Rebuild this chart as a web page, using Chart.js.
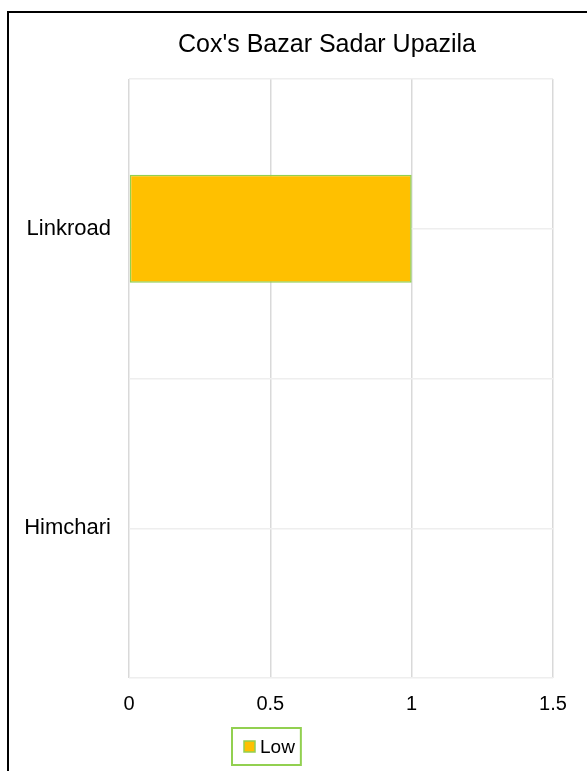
<!DOCTYPE html>
<html>
<head>
<meta charset="utf-8">
<title>Cox's Bazar Sadar Upazila</title>
<script src="https://cdn.jsdelivr.net/npm/chart.js@4.4.0/dist/chart.umd.min.js"></script>
<style>
    html, body {
        margin: 0;
        padding: 0;
        background: #ffffff;
        overflow: hidden;
    }
    #frame {
        position: absolute;
        left: 7px;
        top: 11px;
        width: 700px;
        height: 820px;
        border: 2px solid #000000;
        background: #ffffff;
    }
    #chart {
        position: absolute;
        left: 0;
        top: 0;
    }
</style>
</head>
<body>
<div id="frame">
    <canvas id="chart" width="636" height="758"></canvas>
</div>
<script>
// Chart data
const chartTitle = "Cox's Bazar Sadar Upazila";
const categories = ['Linkroad', 'Himchari'];
const seriesName = 'Low';
const lowValues = [1, 0];
const xTicks = [0, 0.5, 1, 1.5];
// category boundaries and centres, for the light horizontal lines
const rowLines = [-0.5, 0, 0.5, 1, 1.5];

const barColor = '#FFC000';
const edgeColor = '#92D050';
const fontFamily = "'Liberation Sans', Arial, sans-serif";

// Boxed legend drawn under the axis, like the Excel one
const boxedLegend = {
    id: 'boxedLegend',
    afterDraw(chart) {
        const ctx = chart.ctx;
        const ds = chart.data.datasets[0];
        ctx.save();
        ctx.font = '19px ' + fontFamily;
        const textW = ctx.measureText(ds.label).width;
        const left = 223, top = 715, h = 37;
        const sw = 11;
        const width = 12 + sw + 5 + textW + 6;
        ctx.strokeStyle = edgeColor;
        ctx.lineWidth = 2;
        ctx.strokeRect(left, top, width, h);
        const midY = top + h / 2;
        ctx.fillStyle = ds.backgroundColor;
        ctx.fillRect(left + 12, midY - sw / 2, sw, sw);
        ctx.lineWidth = 1.5;
        ctx.strokeRect(left + 12, midY - sw / 2, sw, sw);
        ctx.fillStyle = '#000000';
        ctx.textBaseline = 'middle';
        ctx.fillText(ds.label, left + 12 + sw + 5, midY + 1);
        ctx.restore();
    }
};

const ctx = document.getElementById('chart').getContext('2d');
const chart = new Chart(ctx, {
    type: 'bar',
    data: {
        labels: categories,
        datasets: [{
            label: seriesName,
            data: lowValues,
            backgroundColor: barColor,
            borderColor: edgeColor,
            borderWidth: 1.5,
            borderSkipped: false,
            categoryPercentage: 1,
            barPercentage: 0.36
        }]
    },
    options: {
        indexAxis: 'y',
        responsive: false,
        animation: false,
        devicePixelRatio: 1,
        layout: {
            padding: { left: 0, right: 0, top: 0, bottom: 41 }
        },
        plugins: {
            legend: { display: false },
            tooltip: { enabled: false },
            title: {
                display: true,
                text: chartTitle,
                color: '#000000',
                font: { family: fontFamily, size: 25, weight: 'normal' },
                padding: { top: 17, bottom: 19 }
            }
        },
        scales: {
            x: {
                min: 0,
                max: 1.5,
                afterBuildTicks: scale => {
                    scale.ticks = xTicks.map(v => ({ value: v }));
                },
                ticks: {
                    color: '#000000',
                    font: { family: fontFamily, size: 20 },
                    padding: 14,
                    maxRotation: 0,
                    callback: v => String(v)
                },
                grid: {
                    color: '#d9d9d9',
                    lineWidth: 1.5,
                    drawTicks: false
                },
                border: { display: false }
            },
            y: {
                position: 'left',
                afterFit: scale => { scale.width = 120; },
                ticks: {
                    color: '#000000',
                    font: { family: fontFamily, size: 22 },
                    padding: 18
                },
                grid: { display: false, drawTicks: false },
                border: { display: false }
            },
            yGrid: {
                type: 'linear',
                position: 'right',
                min: -0.5,
                max: 1.5,
                offset: false,
                afterFit: scale => { scale.width = 92; },
                afterBuildTicks: scale => {
                    scale.ticks = rowLines.map(v => ({ value: v }));
                },
                ticks: { display: false },
                grid: {
                    offset: false,
                    color: '#eeeeee',
                    lineWidth: 1.5,
                    drawTicks: false
                },
                border: { display: false }
            }
        }
    },
    plugins: [boxedLegend]
});
</script>
</body>
</html>
